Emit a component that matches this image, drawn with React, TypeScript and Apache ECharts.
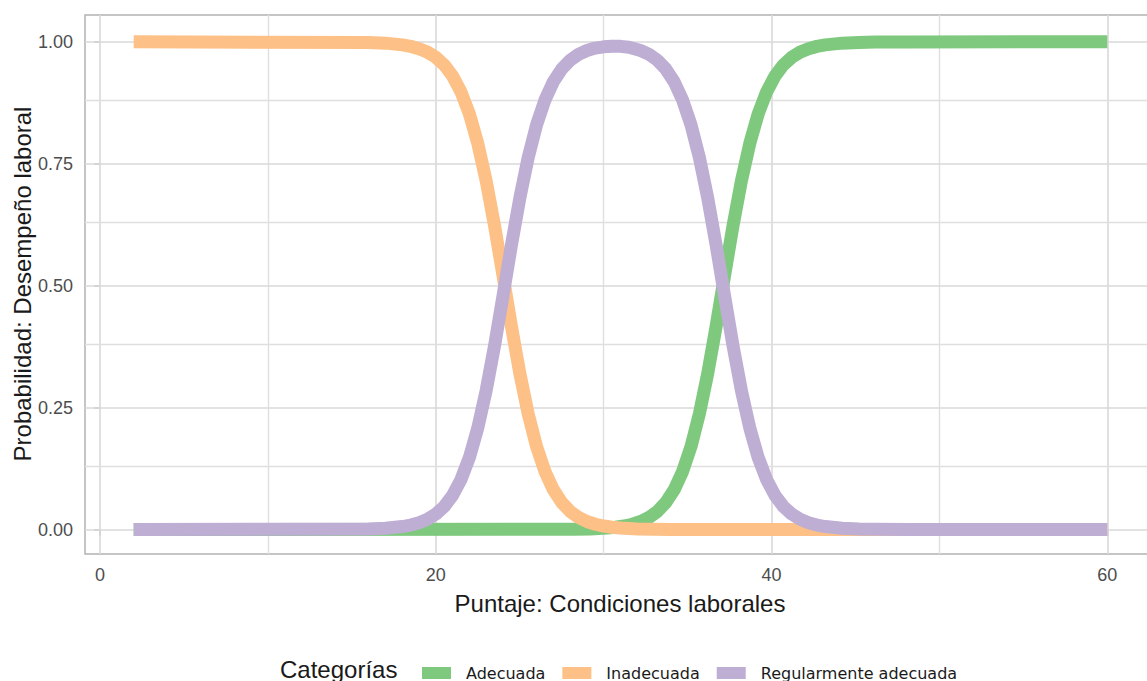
import React, { useEffect, useRef } from "react";
import * as echarts from "echarts";

const categories = ["Adecuada", "Inadecuada", "Regularmente adecuada"];
const colors = ["#7FC97F", "#FDC086", "#BEAED4"];

const adecuadaX = [2, 28.2, 29.2, 30.2, 30.7, 31.2, 31.7, 32.2, 32.7, 33.2, 33.7, 34.2, 34.7, 35.2, 35.7, 36.2, 36.7, 37.2, 37.7, 38.2, 38.7, 39.2, 39.7, 40.2, 40.7, 41.2, 41.7, 42.2, 42.7, 43.2, 44.2, 45.2, 46.2, 48.2, 60];
const adecuadaY = [0, 0.0006, 0.0014, 0.0032, 0.0048, 0.0073, 0.011, 0.0166, 0.0249, 0.0373, 0.0556, 0.0819, 0.1192, 0.1703, 0.2375, 0.3208, 0.4174, 0.5208, 0.6225, 0.7144, 0.7914, 0.852, 0.8971, 0.9297, 0.9526, 0.9682, 0.9789, 0.9859, 0.9907, 0.9938, 0.9973, 0.9988, 0.9995, 0.9999, 1];

const inadecuadaX = [2, 16, 17, 18, 18.5, 19, 19.5, 20, 20.5, 21, 21.5, 22, 22.5, 23, 23.5, 24, 24.5, 25, 25.5, 26, 26.5, 27, 27.5, 28, 28.5, 29, 29.5, 30, 30.5, 31, 32, 33, 34, 35, 60];
const inadecuadaY = [1, 0.9988, 0.9973, 0.9938, 0.9907, 0.9859, 0.9789, 0.9682, 0.9526, 0.9297, 0.8971, 0.852, 0.7914, 0.7144, 0.6225, 0.5208, 0.4174, 0.3208, 0.2375, 0.1703, 0.1192, 0.0819, 0.0556, 0.0373, 0.0249, 0.0166, 0.011, 0.0073, 0.0048, 0.0032, 0.0014, 0.0006, 0.0003, 0.0001, 0];

const regularX = [2, 16, 17, 18, 18.5, 19, 19.5, 20, 20.5, 21, 21.5, 22, 22.5, 23, 23.5, 24, 24.5, 25, 25.5, 26, 26.5, 27, 27.5, 28, 28.5, 29, 29.5, 30, 30.5, 31, 31.5, 32.2, 32.7, 33.2, 33.7, 34.2, 34.7, 35.2, 35.7, 36.2, 36.7, 37.2, 37.7, 38.2, 38.7, 39.2, 39.7, 40.2, 40.7, 41.2, 41.7, 42.2, 42.7, 43.2, 44.2, 45.2, 46.2, 48.2, 60];
const regularY = [0, 0.0012, 0.0027, 0.0062, 0.0093, 0.0141, 0.0211, 0.0318, 0.0474, 0.0703, 0.1029, 0.148, 0.2086, 0.2856, 0.3775, 0.4792, 0.5826, 0.6792, 0.7625, 0.8297, 0.8808, 0.9181, 0.9444, 0.9622, 0.9743, 0.9822, 0.9872, 0.9898, 0.9911, 0.9907, 0.9888, 0.9822, 0.9744, 0.9622, 0.9441, 0.9179, 0.8807, 0.8296, 0.7625, 0.6792, 0.5826, 0.4792, 0.3775, 0.2856, 0.2086, 0.148, 0.1029, 0.0703, 0.0474, 0.0318, 0.0211, 0.0141, 0.0093, 0.0062, 0.0027, 0.0012, 0.0005, 0.0001, 0];

const xTickValues = [0, 20, 40, 60];
const xMinorValues = [10, 30, 50];
const yTickValues = [0, 0.25, 0.5, 0.75, 1];
const yMinorValues = [0.125, 0.375, 0.625, 0.875];

const xTitle = "Puntaje: Condiciones laborales";
const yTitle = "Probabilidad: Desempeño laboral";
const legendTitle = "Categorías";

const pairs = (xs: number[], ys: number[]) => xs.map((x, i) => [x, ys[i]]);

const FONT = '"Liberation Sans", Arial, sans-serif';

export default function App() {
  const ref = useRef<HTMLDivElement>(null);
  useEffect(() => {
    if (!ref.current) return;
    const chart = echarts.init(ref.current, undefined, { renderer: "svg" });
    const seriesData = [
      pairs(adecuadaX, adecuadaY),
      pairs(inadecuadaX, inadecuadaY),
      pairs(regularX, regularY),
    ];
    const majorLine = { color: "#d9d9d9", width: 1.6, type: "solid" };
    const minorLine = { color: "#dfdfdf", width: 1.4, type: "solid" };
    const gridLines = [
      ...xTickValues.map((v) => ({ xAxis: v, lineStyle: majorLine })),
      ...xMinorValues.map((v) => ({ xAxis: v, lineStyle: minorLine })),
      ...yTickValues.map((v) => ({ yAxis: v, lineStyle: majorLine })),
      ...yMinorValues.map((v) => ({ yAxis: v, lineStyle: minorLine })),
    ];
    chart.setOption({
      animation: false,
      backgroundColor: "#ffffff",
      grid: {
        left: 85,
        top: 15,
        width: 1071,
        height: 539,
        show: true,
        borderColor: "#b3b3b3",
        borderWidth: 1.5,
        backgroundColor: "transparent",
        containLabel: false,
        outerBoundsMode: "none",
      },
      xAxis: {
        type: "value",
        min: -0.9,
        max: 62.9,
        axisLine: { show: false },
        splitLine: { show: false },
        axisTick: {
          show: true,
          customValues: xTickValues,
          length: 6,
          lineStyle: { color: "#b3b3b3", width: 1.5 },
        },
        axisLabel: {
          customValues: xTickValues,
          margin: 12,
          color: "#4d4d4d",
          fontSize: 18,
          fontFamily: FONT,
        },
      },
      yAxis: {
        type: "value",
        min: -0.05,
        max: 1.055,
        axisLine: { show: false },
        splitLine: { show: false },
        axisTick: {
          show: true,
          customValues: yTickValues,
          length: 6,
          lineStyle: { color: "#b3b3b3", width: 1.5 },
        },
        axisLabel: {
          customValues: yTickValues,
          margin: 12,
          color: "#4d4d4d",
          fontSize: 18,
          fontFamily: FONT,
          formatter: (v: number) => v.toFixed(2),
        },
      },
      legend: {
        left: 417,
        top: 660,
        itemWidth: 29,
        itemHeight: 12,
        itemGap: 17,
        icon: "rect",
        selectedMode: false,
        textStyle: {
          fontFamily: '"DejaVu Sans", sans-serif',
          fontSize: 16,
          color: "#1a1a1a",
          padding: [0, 0, 0, 10],
        },
        data: categories,
      },
      graphic: [
        {
          type: "text",
          x: 620,
          y: 603,
          style: {
            text: xTitle,
            fontSize: 24,
            fontFamily: FONT,
            fill: "#1a1a1a",
            align: "center",
            verticalAlign: "middle",
          },
        },
        {
          type: "text",
          x: 22,
          y: 284,
          rotation: Math.PI / 2,
          style: {
            text: yTitle,
            fontSize: 24,
            fontFamily: FONT,
            fill: "#1a1a1a",
            align: "center",
            verticalAlign: "middle",
          },
        },
        {
          type: "text",
          x: 280,
          y: 669,
          style: {
            text: legendTitle,
            fontSize: 24,
            fontFamily: FONT,
            fill: "#1a1a1a",
            align: "left",
            verticalAlign: "middle",
          },
        },
      ],
      series: [
        {
          name: "grid",
          type: "line",
          data: [[2, 0]],
          showSymbol: false,
          lineStyle: { opacity: 0 },
          z: 1,
          silent: true,
          markLine: {
            silent: true,
            z: 1,
            symbol: ["none", "none"],
            label: { show: false },
            emphasis: { disabled: true },
            data: gridLines,
          },
        },
        ...categories.map((name, i) => ({
          name,
          type: "line",
          data: seriesData[i],
          showSymbol: false,
          symbol: "none",
          z: 3,
          color: colors[i],
          lineStyle: { color: colors[i], width: 13, cap: "butt", join: "round" },
          emphasis: { disabled: true },
        })),
      ],
    });
    return () => chart.dispose();
  }, []);
  return (
    <div
      ref={ref}
      style={{ position: "fixed", left: 0, top: 0, width: 1147, height: 681, background: "#fff" }}
    />
  );
}
